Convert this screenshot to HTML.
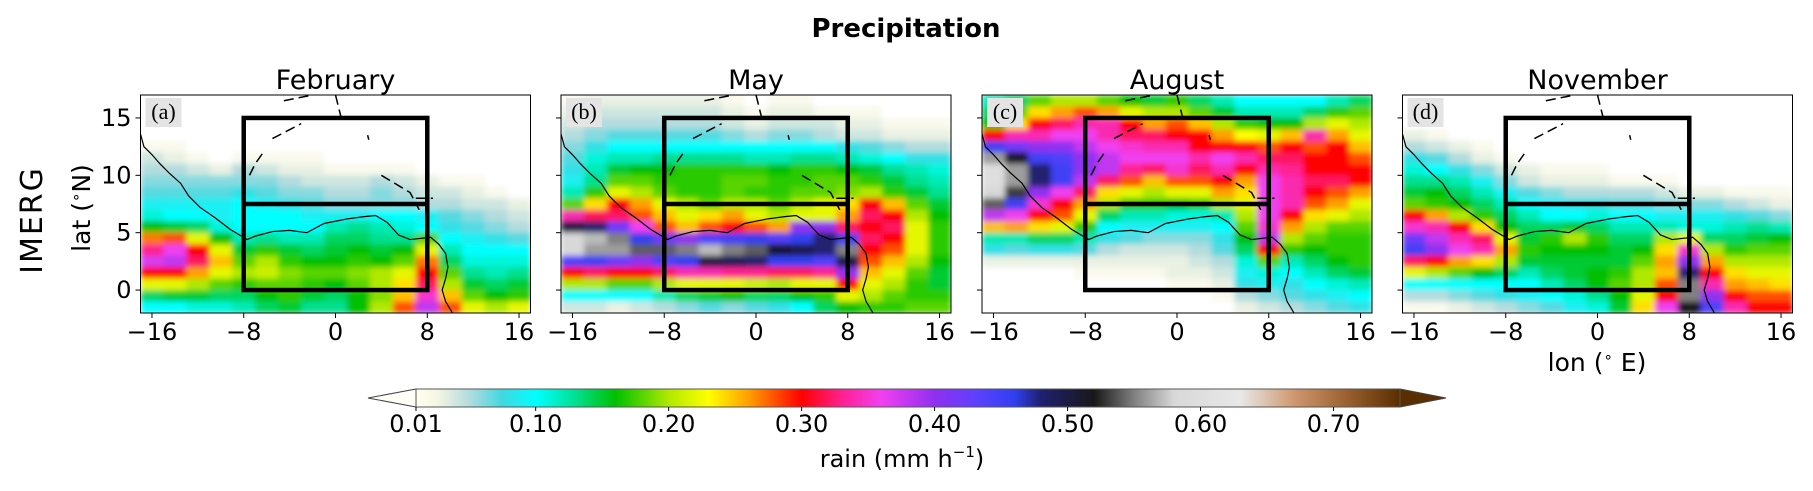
<!DOCTYPE html>
<html><head><meta charset="utf-8">
<style>
body{margin:0;background:#fff;}
svg{display:block;font-family:"DejaVu Sans","Liberation Sans",sans-serif;}
</style></head>
<body>
<svg id="fig" width="1813" height="491" viewBox="0 0 1813 491" xmlns="http://www.w3.org/2000/svg">
<defs><filter id="blur" x="0" y="0" width="100%" height="100%"><feGaussianBlur stdDeviation="3" edgeMode="duplicate"/></filter></defs>
<text x="906" y="37" text-anchor="middle" font-weight="bold" font-size="26">Precipitation</text>
<text transform="translate(42,220) rotate(-90)" text-anchor="middle" font-size="30" letter-spacing="2">IMERG</text>
<text transform="translate(90,208) rotate(-90)" text-anchor="middle" font-size="25">lat (<tspan font-size="15" dy="-9">∘</tspan><tspan dy="9">N)</tspan></text>
<text x="1597" y="371" text-anchor="middle" font-size="25">lon (<tspan font-size="15" dy="-9">∘</tspan><tspan dy="9"> E)</tspan></text>
<g id="panels"></g>
<g id="cbar"></g>
<text x="902" y="467" text-anchor="middle" font-size="24">rain (mm h<tspan font-size="15" dy="-10">−1</tspan><tspan dy="10">)</tspan></text>
</svg>
<script>
const months = ["February","May","August","November"];
const panelTags = ["(a)","(b)","(c)","(d)"];
const lonCenters = [-16,-14,-12,-10,-8,-6,-4,-2,0,2,4,6,8,10,12,14,16];
const latCenters = [16.5,15.5,14.5,13.5,12.5,11.5,10.5,9.5,8.5,7.5,6.5,5.5,4.5,3.5,2.5,1.5,0.5,-0.5,-1.5];
const xTicks = [-16,-8,0,8,16];
const yTicks = [0,5,10,15];
const cbTicks = [0.01,0.10,0.20,0.30,0.40,0.50,0.60,0.70];
// rain in hundredths of mm/h, rows north->south, cols west->east
const rainFeb = [
[1,1,1,1,1,1,1,1,1,1,1,1,1,1,1,1,1],
[1,1,1,1,1,1,1,1,1,1,1,1,1,1,1,1,1],
[1,1,1,1,1,1,1,1,1,1,1,1,1,1,1,1,1],
[1,1,1,1,1,1,1,1,1,1,1,1,1,1,1,1,1],
[2,2,1,1,1,1,1,1,1,1,1,1,1,1,1,1,1],
[4,3,2,1,2,2,2,2,1,1,1,1,1,1,1,1,1],
[5,5,4,3,5,4,3,3,2,2,2,2,1,1,1,1,1],
[6,6,6,6,6,6,5,4,4,4,5,4,3,2,2,1,1],
[7,7,7,7,8,7,6,6,5,5,6,5,4,4,3,2,1],
[9,9,9,9,10,9,8,7,6,6,6,6,5,5,4,4,3],
[11,10,10,9,10,10,10,9,9,9,10,10,9,7,6,5,4],
[16,15,14,11,10,10,10,10,12,13,12,11,10,8,7,6,5],
[27,28,22,16,12,13,12,12,14,14,13,13,18,10,9,8,7],
[33,36,30,22,15,17,15,14,15,16,15,16,22,12,10,10,10],
[37,38,32,25,18,20,17,16,16,17,16,18,27,14,11,11,11],
[30,30,26,22,20,21,19,18,18,19,20,22,30,18,13,12,13],
[22,22,20,18,17,18,18,17,16,18,20,24,32,20,15,14,15],
[14,15,15,14,14,16,17,15,14,16,19,25,35,25,18,16,17],
[10,10,11,11,12,14,15,13,13,16,20,28,38,28,22,20,22]];
const rainMay = [
[2,3,3,3,3,3,3,2,1,2,2,1,1,1,1,1,1],
[3,4,4,4,4,4,4,3,2,3,3,2,2,2,1,1,1],
[4,5,5,5,5,5,5,4,3,4,4,4,3,3,2,2,2],
[5,6,7,7,7,7,7,6,5,6,6,5,4,4,3,3,3],
[6,8,10,10,10,10,10,10,10,10,10,10,8,7,6,5,5],
[7,11,12,12,13,13,13,13,12,12,13,13,12,11,10,8,8],
[8,12,15,16,16,17,17,17,17,16,17,17,16,15,13,12,11],
[9,13,18,18,17,17,17,18,18,17,17,18,18,17,15,13,12],
[12,17,22,20,18,17,17,18,17,17,18,18,19,20,17,15,13],
[18,24,30,26,22,20,18,20,20,18,20,22,24,30,25,18,15],
[34,32,32,28,25,22,24,26,22,20,22,22,26,32,30,20,16],
[50,48,42,36,28,25,28,30,28,26,40,40,32,30,32,22,17],
[58,57,55,46,42,40,44,45,46,44,46,48,45,32,30,22,17],
[58,56,56,54,54,55,57,55,54,52,50,48,55,30,28,22,17],
[44,45,42,40,44,46,50,49,48,46,46,44,50,28,25,20,16],
[30,32,30,30,32,34,34,33,33,32,32,33,40,25,22,18,15],
[20,20,18,18,20,22,22,22,21,20,22,22,30,22,20,17,15],
[10,10,10,10,12,14,15,16,14,14,16,17,22,20,18,17,17],
[4,4,3,4,5,6,7,6,7,8,10,14,16,17,17,18,18]];
const rainAug = [
[12,14,18,20,20,18,16,15,17,14,12,10,10,10,10,12,14],
[14,18,24,26,28,26,22,20,20,18,15,12,12,12,14,17,18],
[16,24,30,32,34,34,30,26,28,25,20,17,16,16,20,22,20],
[30,34,34,36,36,34,32,32,30,30,26,23,22,25,34,26,22],
[45,42,40,40,38,36,35,34,34,30,30,30,28,30,28,30,25],
[56,52,45,44,40,38,36,36,36,34,36,34,32,32,30,30,28],
[60,56,48,45,40,38,33,32,35,32,34,30,34,33,30,30,30],
[60,56,48,45,38,32,28,25,28,28,30,26,36,34,32,32,30],
[58,53,40,36,32,24,22,20,22,22,26,24,36,34,30,28,26],
[54,45,35,30,26,20,17,17,16,17,20,22,36,34,28,26,22],
[38,36,30,28,22,14,12,12,11,11,12,20,36,30,24,22,20],
[25,26,24,22,17,10,9,9,9,9,10,18,35,26,20,18,18],
[12,12,14,14,12,8,7,6,6,6,8,16,38,20,18,17,17],
[8,7,8,8,7,5,4,4,4,5,7,14,30,17,16,17,17],
[3,3,3,3,3,3,3,3,3,4,5,11,18,12,14,16,17],
[1,1,1,1,2,2,2,2,3,3,4,9,11,10,12,14,15],
[1,1,1,1,1,1,1,1,2,2,3,8,9,8,10,11,12],
[1,1,1,1,1,1,1,1,1,1,2,5,6,7,8,9,10],
[1,1,1,1,1,1,1,1,1,1,1,3,4,5,6,7,8]];
const rainNov = [
[1,1,1,1,1,1,1,1,1,1,1,1,1,1,1,1,1],
[1,1,1,1,1,1,1,1,1,1,1,1,1,1,1,1,1],
[1,1,1,1,1,1,1,1,1,1,1,1,1,1,1,1,1],
[3,2,1,1,1,1,1,1,1,1,1,1,1,1,1,1,1],
[5,4,3,2,1,1,1,1,1,1,1,1,1,1,1,1,1],
[8,7,5,3,2,1,1,1,1,1,1,1,1,1,1,1,1],
[11,10,8,6,4,3,2,2,2,1,1,1,1,1,1,1,1],
[13,13,12,9,6,4,3,3,3,2,2,2,1,1,1,1,1],
[15,16,14,12,9,7,6,5,5,5,5,4,3,3,2,2,2],
[18,17,16,14,12,10,9,8,8,7,7,6,6,6,5,4,3],
[30,26,20,17,14,12,10,10,11,10,10,9,9,9,8,7,6],
[35,34,30,24,16,14,14,15,14,12,12,12,11,11,12,13,12],
[42,38,34,32,22,15,17,20,17,14,14,20,22,14,14,15,16],
[45,40,36,34,26,17,16,16,16,15,16,24,35,20,17,18,18],
[32,30,26,24,20,15,15,15,15,15,18,26,40,26,20,20,20],
[22,20,18,16,14,12,14,15,16,17,20,25,48,30,24,22,22],
[10,10,10,10,10,10,12,14,16,18,20,28,55,34,26,25,24],
[5,5,6,7,8,9,10,11,13,16,22,30,55,40,30,28,28],
[2,2,3,4,5,6,7,9,11,15,24,36,52,44,34,30,30]];
const rainFields = [rainFeb, rainMay, rainAug, rainNov];

const NS="http://www.w3.org/2000/svg";
function mk(tag,attrs,parent){const e=document.createElementNS(NS,tag);for(const k in attrs)e.setAttribute(k,attrs[k]);if(parent)parent.appendChild(e);return e;}
const stops=[[0.01,"#ffffff"],[0.025,"#f6f6e4"],[0.05,"#b4dcde"],[0.075,"#40d8e0"],[0.10,"#00ffff"],[0.13,"#00e090"],[0.16,"#00c000"],[0.20,"#b0e800"],[0.23,"#ffff00"],[0.26,"#ffa000"],[0.30,"#ff0000"],[0.33,"#ff2090"],[0.36,"#f040f0"],[0.40,"#9030f0"],[0.43,"#6040ff"],[0.46,"#3040f0"],[0.48,"#202070"],[0.52,"#181818"],[0.55,"#808080"],[0.58,"#d8d8d8"],[0.63,"#e8e8e8"],[0.67,"#d09870"],[0.71,"#9a6030"],[0.75,"#5a2e00"]];
const cbStops=[[0.01,"#fffff0"]].concat(stops.slice(1));
function hex(h){return [1,3,5].map(i=>parseInt(h.substr(i,2),16));}
function interp(st,v){
 if(v<=st[0][0])return st[0][1];
 for(let i=1;i<st.length;i++){if(v<=st[i][0]){const a=st[i-1],b=st[i];const t=(v-a[0])/(b[0]-a[0]);const ca=hex(a[1]),cb=hex(b[1]);return "rgb("+ca.map((c,j)=>Math.round(c+(cb[j]-c)*t)).join(",")+")";}}
 return st[st.length-1][1];
}
const cmap=v=>interp(stops,v);
const panelLeft=[140.5,561,982,1402.5], PW=390, PT=95, PB=313;
const LON0=-17,LON1=17,LAT0=-2,LAT1=17;
const coast=[[-17,13.6],[-16.7,12.5],[-16,11.8],[-15.3,11],[-14.5,10.2],[-13.5,9.3],[-12.8,8.2],[-11.8,7.2],[-10.5,6.3],[-9.2,5.3],[-7.7,4.4],[-7,4.7],[-5.5,5.1],[-4,5.2],[-2.5,5],[-1,5.8],[1,6.2],[2.5,6.4],[3.5,6.5],[4.5,5.9],[5.5,4.8],[6.5,4.4],[8.3,4.6],[9,4],[9.6,3.2],[9.8,2],[9.6,1],[9.3,0],[9.6,-1],[10.2,-2]];
const borders=[[[-7.5,10],[-7,11],[-6.3,12]],[[-5.5,13.2],[-3,14.5]],[[-4.5,16.5],[-2,17]],[[0,17],[0.5,15]],[[2.8,13.5],[2.9,13.1]],[[4,10],[6.5,8.5],[7.3,7]],[[7,8],[8.5,8]]];
const panels=document.getElementById("panels");
months.forEach((m,p)=>{
 const L=panelLeft[p];
 const x=lon=>L+(lon-LON0)/(LON1-LON0)*PW;
 const y=lat=>PB-(lat-LAT0)/(LAT1-LAT0)*(PB-PT);
 const g=mk("g",{},panels);
 
 
 const cp=mk("clipPath",{id:"cp"+p},g);mk("rect",{x:L,y:PT,width:PW,height:PB-PT},cp);
 const clipG=mk("g",{"clip-path":"url(#cp"+p+")"},g);
 const hm=mk("g",{filter:"url(#blur)"},clipG);
 
 
 const field=rainFields[p];
 latCenters.forEach((lat,r)=>{lonCenters.forEach((lon,c)=>{
  const v=field[r][c]/100;
  const x0=c===0?x(LON0):x(lon-1), x1=c===lonCenters.length-1?x(LON1):x(lon+1);
  const y0=r===0?y(LAT1):y(lat+0.5), y1=r===latCenters.length-1?y(LAT0):y(lat-0.5);
  const cell=mk("rect",{x:x0.toFixed(2),y:y0.toFixed(2),width:(x1-x0+0.6).toFixed(2),height:(y1-y0+0.6).toFixed(2),fill:cmap(v)},hm);
  
  
 });});
 const cl=mk("polyline",{points:coast.map(q=>x(q[0])+","+y(q[1])).join(" "),fill:"none",stroke:"#000","stroke-width":1.2},clipG);
 
 
 borders.forEach(b=>{const bl=mk("polyline",{points:b.map(q=>x(q[0])+","+y(q[1])).join(" "),fill:"none",stroke:"#000","stroke-width":1.5,"stroke-dasharray":"10,5"},clipG);
  
  });
 const box=mk("rect",{x:x(-8),y:y(15),width:x(8)-x(-8),height:y(0)-y(15),fill:"none",stroke:"#000","stroke-width":4.5},g);
 
 
 const sep=mk("line",{x1:x(-8),x2:x(8),y1:y(7.5),y2:y(7.5),stroke:"#000","stroke-width":4.5},g);
 
 
 const fr=mk("rect",{x:L,y:PT,width:PW,height:PB-PT,fill:"none",stroke:"#000","stroke-width":1},g);
 
 
 const tb=mk("rect",{x:L+5,y:PT+3,width:36,height:29,fill:"#e4e4e4"},g);
 
 
 const tg=mk("text",{x:L+23,y:PT+24,"text-anchor":"middle","font-size":22,"font-family":"Liberation Serif,serif"},g);
 tg.textContent=panelTags[p];
 
 
 const tt=mk("text",{x:L+PW/2,y:89,"text-anchor":"middle","font-size":27},g);
 tt.textContent=m;
 
 
 xTicks.forEach(t=>{
  const tk=mk("line",{x1:x(t),x2:x(t),y1:PB,y2:PB+5,stroke:"#000"},g);
  
  
  const tl=mk("text",{x:x(t),y:340,"text-anchor":"middle","font-size":24},g);
  tl.textContent=t<0?"\u2212"+(-t):t;
  
  
 });
 yTicks.forEach(t=>{
  const tk=mk("line",{x1:L-5,x2:L,y1:y(t),y2:y(t),stroke:"#000"},g);
  
  
  if(p===0){const tl=mk("text",{x:L-9,y:y(t)+8,"text-anchor":"end","font-size":24},g);
   tl.textContent=t;
   
   }
 });
});
// colorbar
const cb=document.getElementById("cbar");
const CBL=416,CBR=1400,CBT=389,CBB=407,V0=0.01,V1=0.75;
const cx=v=>CBL+(v-V0)/(V1-V0)*(CBR-CBL);
const defs=mk("defs",{},cb);
const lg=mk("linearGradient",{id:"cbg",x1:0,x2:1,y1:0,y2:0},defs);
for(let i=0;i<=148;i++){const v=V0+(V1-V0)*i/148;mk("stop",{offset:(i/148).toFixed(4),"stop-color":interp(cbStops,v)},lg);}
const lt=mk("polygon",{points:`${CBL},${CBT} 368,${(CBT+CBB)/2} ${CBL},${CBB}`,fill:"#fffff8",stroke:"#444","stroke-width":1},cb);


const rt=mk("polygon",{points:`${CBR},${CBT} 1446,${(CBT+CBB)/2} ${CBR},${CBB}`,fill:"#5a2e00",stroke:"#444","stroke-width":1},cb);


const cr=mk("rect",{x:CBL,y:CBT,width:CBR-CBL,height:CBB-CBT,fill:"url(#cbg)",stroke:"#555","stroke-width":1},cb);


cbTicks.forEach(t=>{
 const tk=mk("line",{x1:cx(t),x2:cx(t),y1:CBB,y2:CBB+4,stroke:"#000"},cb);
 
 
 const tl=mk("text",{x:cx(t),y:432,"text-anchor":"middle","font-size":24},cb);
 tl.textContent=t.toFixed(2);
 
 
});
</script>
</body></html>
